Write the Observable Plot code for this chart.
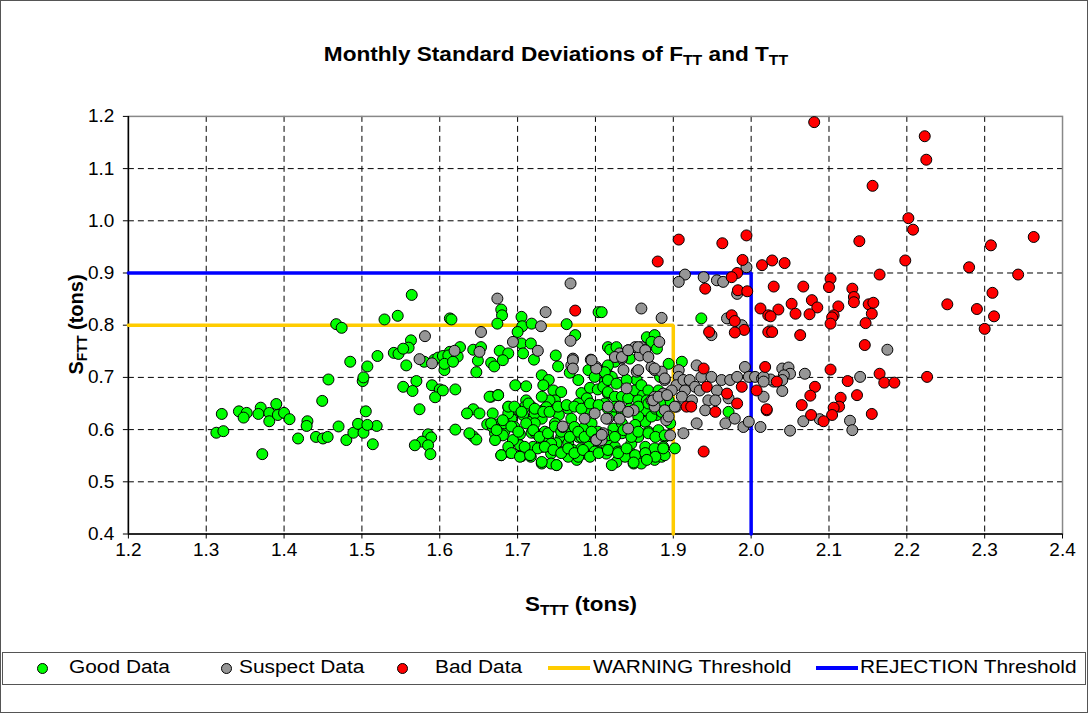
<!DOCTYPE html>
<html>
<head>
<meta charset="utf-8">
<script src="https://cdn.jsdelivr.net/npm/d3@7"></script>
<script src="https://cdn.jsdelivr.net/npm/@observablehq/plot@0.6"></script>
<style>
  html, body { margin: 0; padding: 0; background: #fff; }
  body { font-family: Arial, "Liberation Sans", Helvetica, sans-serif; }
  #wrap { position: relative; width: 1086px; height: 711px; border: 1px solid #555; overflow: hidden; }
  #plot { position: absolute; left: -1px; top: -1px; }
  .title { position: absolute; top: 42px; left: 155px; width: 800px; text-align: center; font-weight: bold; font-size: 20px; transform: scaleX(1.13); transform-origin: 400px 0; }
  .xlab { position: absolute; top: 592px; left: 405px; width: 350px; text-align: center; font-weight: bold; font-size: 20px; transform: scaleX(1.12); transform-origin: 175px 0; }
  .ylab { position: absolute; top: 312px; left: -100px; width: 350px; text-align: center; font-weight: bold; font-size: 20px; transform: rotate(-90deg); }
  sub { font-size: 14px; vertical-align: -4px; line-height: 0; }
  .legend { position: absolute; top: 651px; left: 1px; width: 1082px; height: 31px; border: 1px solid #555; font-size: 18px; }
  .li { position: absolute; top: 4px; white-space: nowrap; transform: scaleX(1.16); transform-origin: 0 0; }
  .dot { position: absolute; top: 10px; width: 9px; height: 9px; border-radius: 50%; border: 1px solid #000; }
  .ln { position: absolute; top: 13px; width: 42px; height: 4px; }
</style>
</head>
<body>
<div id="wrap">
  <div id="plot"></div>
  <div class="title">Monthly Standard Deviations of F<sub>TT</sub> and T<sub>TT</sub></div>
  <div class="xlab">S<sub>TTT</sub> (tons)</div>
  <div class="ylab">S<sub>FTT</sub> (tons)</div>
  <div class="legend" id="legend"></div>
</div>
<script>
// ---- Data (x = S_TTT tons, y = S_FTT tons) ----
const goodData = [
[1.313,0.594],[1.322,0.597],[1.320,0.630],[1.342,0.635],[1.352,0.632],[1.348,0.623],[1.370,0.642],[1.367,0.630],
[1.381,0.632],[1.381,0.616],[1.390,0.649],[1.392,0.628],[1.400,0.632],[1.407,0.620],[1.372,0.553],[1.418,0.583],
[1.430,0.616],[1.429,0.607],[1.441,0.586],[1.450,0.583],[1.456,0.586],[1.449,0.655],[1.457,0.696],[1.470,0.606],
[1.480,0.580],[1.489,0.594],[1.495,0.611],[1.502,0.594],[1.505,0.635],[1.514,0.572],[1.519,0.607],[1.507,0.609],
[1.501,0.693],[1.502,0.700],[1.507,0.721],[1.520,0.741],[1.485,0.730],[1.467,0.802],[1.474,0.795],[1.529,0.811],
[1.546,0.818],[1.541,0.747],[1.547,0.745],
[1.564,0.858],[1.563,0.771],[1.560,0.757],[1.553,0.755],[1.580,0.730],[1.593,0.734],[1.598,0.738],[1.604,0.741],
[1.613,0.749],[1.606,0.714],[1.613,0.733],[1.557,0.723],[1.570,0.693],[1.553,0.682],[1.565,0.674],[1.590,0.685],
[1.600,0.677],[1.594,0.662],[1.574,0.639],[1.585,0.591],[1.589,0.585],[1.577,0.577],[1.568,0.570],[1.585,0.570],
[1.588,0.553],[1.613,0.813],
[1.615,0.811],[1.679,0.830],[1.680,0.819],[1.674,0.803],[1.705,0.816],[1.706,0.798],[1.700,0.787],[1.718,0.803],
[1.763,0.802],[1.774,0.781],[1.804,0.825],[1.808,0.825],[1.705,0.765],[1.717,0.765],[1.707,0.746],[1.721,0.734],
[1.749,0.742],[1.752,0.721],[1.623,0.740],[1.611,0.742],[1.606,0.726],[1.617,0.730],[1.626,0.758],[1.643,0.753],
[1.653,0.758],[1.649,0.732],[1.666,0.728],[1.670,0.721],[1.677,0.751],[1.688,0.746],[1.681,0.733],[1.647,0.710],
[1.604,0.675],[1.620,0.677],[1.697,0.685],[1.711,0.683],[1.666,0.663],[1.675,0.666],[1.643,0.639],[1.635,0.631],
[1.651,0.631],[1.620,0.600],[1.643,0.587],[1.647,0.581],[1.638,0.593],[1.661,0.610],[1.668,0.631],[1.675,0.610],
[1.671,0.593],[1.683,0.596],[1.688,0.643],[1.692,0.621],[1.701,0.637],[1.703,0.591],[1.711,0.656],[1.717,0.645],
[1.714,0.615],[1.718,0.594],[1.679,0.551],[1.690,0.556],[1.705,0.549],[1.717,0.548],[1.703,0.570],[1.731,0.704],
[1.740,0.695],[1.746,0.675],[1.733,0.685],[1.733,0.637],[1.731,0.621],[1.723,0.594],[1.735,0.596],[1.731,0.535],
[1.750,0.532],[1.743,0.554],[1.731,0.567],[1.720,0.567],[1.756,0.672],[1.748,0.656],[1.765,0.640],[1.753,0.628],
[1.769,0.621],[1.748,0.612],[1.756,0.586],[1.750,0.574],[1.765,0.574],[1.778,0.586],[1.758,0.558],[1.771,0.561],
[1.776,0.542],[1.786,0.554],[1.767,0.709],[1.778,0.695],[1.782,0.670],[1.793,0.680],[1.789,0.660],[1.778,0.650],
[1.791,0.640],[1.795,0.612],[1.784,0.602],[1.803,0.596],[1.793,0.586],[1.797,0.568],[1.814,0.564],[1.803,0.558],
[1.782,0.564],[1.791,0.714],[1.799,0.701],[1.814,0.715],[1.812,0.691],[1.803,0.677],[1.816,0.669],[1.812,0.650],
[1.816,0.758],
[1.741,0.656],[1.739,0.586],[1.743,0.573],[1.769,0.596],[1.773,0.605],[1.782,0.586],[1.791,0.567],[1.799,0.558],
[1.765,0.548],[1.743,0.535],[1.778,0.548],[1.709,0.567],[1.694,0.580],[1.681,0.589],[1.671,0.580],[1.688,0.567],
[1.696,0.605],[1.707,0.628],[1.722,0.631],[1.731,0.663],[1.737,0.643],[1.722,0.612],[1.709,0.643],[1.698,0.640],
[1.688,0.631],[1.683,0.612],[1.668,0.605],
[1.936,0.813],[1.866,0.777],[1.876,0.781],[1.872,0.768],[1.879,0.755],[1.819,0.753],[1.827,0.758],[1.844,0.736],
[1.825,0.730],[1.816,0.723],[1.853,0.695],[1.821,0.701],[1.812,0.710],[1.894,0.726],[1.883,0.701],[1.911,0.730],
[1.810,0.682],[1.816,0.672],[1.825,0.663],[1.834,0.663],[1.842,0.660],[1.851,0.675],[1.861,0.666],[1.894,0.656],
[1.864,0.637],[1.823,0.602],[1.834,0.612],[1.864,0.615],[1.879,0.628],[1.896,0.612],[1.889,0.586],[1.902,0.564],
[1.887,0.567],[1.816,0.580],[1.825,0.567],[1.829,0.558],[1.814,0.554],[1.827,0.538],[1.846,0.554],[1.849,0.535],
[1.857,0.548],[1.868,0.551],[1.876,0.542],[1.885,0.548],[1.859,0.535],[1.846,0.573],[1.872,0.558],[1.838,0.548],
[1.971,0.634],
[1.816,0.695],[1.827,0.688],[1.840,0.695],[1.859,0.685],[1.868,0.675],[1.881,0.675],[1.855,0.656],[1.866,0.656],
[1.883,0.650],[1.855,0.625],[1.872,0.625],[1.851,0.609],[1.821,0.628],[1.834,0.593],[1.855,0.586],[1.868,0.596],
[1.881,0.599],[1.864,0.567],[1.876,0.564],[1.889,0.551],
[1.664,0.663],[1.675,0.666],[1.688,0.644],[1.696,0.644],[1.705,0.634],[1.714,0.650],[1.722,0.640],[1.733,0.634],
[1.741,0.634],[1.752,0.644],[1.763,0.647],[1.773,0.644],[1.782,0.640],[1.793,0.650],[1.804,0.647],[1.816,0.640],
[1.825,0.644],[1.834,0.634],[1.844,0.640],[1.855,0.644],[1.868,0.650],[1.877,0.640],[1.885,0.634],
[1.666,0.612],[1.673,0.599],[1.681,0.618],[1.692,0.606],[1.701,0.596],[1.711,0.612],[1.720,0.599],[1.728,0.586],
[1.739,0.593],[1.748,0.606],[1.756,0.596],[1.767,0.586],[1.778,0.596],[1.786,0.586],[1.795,0.596],[1.806,0.583],
[1.816,0.589],[1.825,0.586],[1.836,0.599],[1.846,0.586],[1.855,0.596],[1.868,0.593],[1.877,0.586],[1.889,0.589],
[1.679,0.551],[1.692,0.555],[1.703,0.548],[1.716,0.551],[1.726,0.564],[1.735,0.567],[1.746,0.561],[1.756,0.555],
[1.765,0.564],[1.773,0.555],[1.784,0.561],[1.793,0.548],[1.804,0.555],[1.816,0.561],[1.829,0.555],[1.840,0.564],
[1.851,0.551],[1.864,0.555],[1.877,0.548],[1.887,0.564],
[1.731,0.538],[1.750,0.532],[1.821,0.532],[1.849,0.537],[1.866,0.542]
];

const suspectData = [
[1.581,0.779],[1.574,0.735],[1.590,0.727],[1.674,0.851],[1.653,0.787],[1.730,0.798],[1.736,0.825],[1.768,0.770],
[1.694,0.768],[1.726,0.751],[1.619,0.751],[1.651,0.749],[1.758,0.605],[1.769,0.723],[1.771,0.736],[1.786,0.621],
[1.799,0.631],[1.808,0.580],[1.801,0.581],[1.794,0.734],[1.801,0.720],[1.816,0.621],[1.768,0.880],
[1.859,0.832],[1.885,0.814],[1.969,0.813],[1.988,0.800],[1.949,0.781],[1.882,0.768],[1.831,0.746],[1.834,0.736],
[1.842,0.752],[1.851,0.758],[1.859,0.758],[1.864,0.752],[1.857,0.742],[1.836,0.714],[1.853,0.711],[1.872,0.720],
[1.876,0.714],[1.885,0.711],[1.889,0.695],[1.907,0.714],[1.907,0.701],[1.904,0.685],[1.872,0.656],[1.876,0.663],
[1.887,0.669],[1.898,0.675],[1.840,0.679],[1.831,0.644],[1.816,0.644],[1.849,0.637],[1.876,0.644],[1.889,0.637],
[1.904,0.644],[1.913,0.695],[1.921,0.695],[1.928,0.682],[1.915,0.675],[1.911,0.663],[1.924,0.656],[1.934,0.675],
[1.814,0.621],[1.831,0.621],[1.842,0.602],[1.891,0.618],[1.896,0.589],[1.913,0.593],[1.810,0.593],[1.930,0.723],
[1.936,0.701],[1.949,0.701],[1.956,0.675],[1.962,0.695],[1.973,0.695],[1.982,0.701],[1.992,0.720],[1.997,0.701],
[1.971,0.660],[1.945,0.656],[1.954,0.656],[1.941,0.637],[1.967,0.612],[1.979,0.621],[1.990,0.605],[1.997,0.615],
[2.012,0.605],[2.016,0.663],[2.005,0.701],[2.014,0.698],[1.930,0.612],
[1.994,0.911],[1.915,0.897],[1.907,0.883],[1.939,0.892],[1.956,0.886],[1.964,0.883],[1.982,0.860],
[2.175,0.753],[2.040,0.717],[2.048,0.719],[2.050,0.707],[2.042,0.704],[2.040,0.695],[2.029,0.692],[2.025,0.696],
[2.016,0.701],[2.016,0.692],[2.040,0.674],[2.069,0.707],[2.140,0.701],[2.067,0.616],[2.088,0.620],[2.127,0.617],
[2.130,0.599],[2.050,0.598],
[1.758,0.606],[1.801,0.580],[1.808,0.590],[1.831,0.644],[1.842,0.634],[1.874,0.656],[1.881,0.663],[1.892,0.666],
[1.902,0.644],[1.894,0.625],[1.801,0.717],[1.795,0.733],[1.771,0.733],[1.771,0.717],[1.825,0.739],[1.834,0.739],
[1.842,0.752],[1.855,0.758],[1.864,0.752],[1.868,0.739],[1.855,0.714],[1.876,0.717],[1.889,0.698]
];

const badData = [
[1.774,0.828],[1.917,0.644],[1.923,0.644],[1.939,0.717],[1.943,0.682],[1.988,0.682],[1.969,0.669],[1.982,0.650],
[1.954,0.634],[1.939,0.558],[2.018,0.720],[2.007,0.675],[2.020,0.637],
[1.975,0.819],[1.979,0.808],[1.991,0.791],[1.946,0.787],[1.979,0.786],[2.012,0.832],[2.022,0.819],[2.022,0.787],
[2.081,1.189],[2.156,1.067],[1.907,0.964],[1.963,0.957],[1.994,0.972],[2.139,0.961],[1.880,0.922],[1.989,0.925],
[2.014,0.915],[2.027,0.924],[2.043,0.919],[1.982,0.900],[1.975,0.892],[2.165,0.897],[2.102,0.889],[1.941,0.870],
[1.983,0.867],[1.995,0.865],
[2.029,0.874],[2.067,0.874],[2.100,0.873],[2.130,0.870],[2.132,0.854],[2.132,0.844],[2.052,0.841],[2.078,0.848],
[2.085,0.834],[2.035,0.830],[2.025,0.817],[2.057,0.822],[2.075,0.821],[2.112,0.836],[2.106,0.819],[2.104,0.815],
[2.102,0.803],[2.151,0.840],[2.157,0.843],[2.155,0.822],[2.147,0.804],[2.252,0.840],[2.027,0.787],[2.063,0.781],
[2.146,0.762],[2.033,0.692],[2.020,0.639],[2.102,0.715],[2.124,0.693],[2.165,0.707],[2.171,0.690],[2.184,0.690],
[2.226,0.701],[2.082,0.682],[2.076,0.665],[2.136,0.666],[2.115,0.661],[2.113,0.644],[2.106,0.642],[2.104,0.628],
[2.093,0.616],[2.065,0.647],[2.077,0.628],[2.155,0.630],
[2.223,1.162],[2.225,1.117],[2.202,1.005],[2.208,0.983],[2.363,0.969],[2.308,0.953],[2.198,0.924],[2.280,0.911],
[2.343,0.897],[2.310,0.862],[2.290,0.831],[2.312,0.817],[2.300,0.793]
];

// Threshold polylines
const warningX = [1.2, 1.9, 1.9];
const warningY = [0.8, 0.8, 0.4];
const rejectionX = [1.2, 2.0, 2.0];
const rejectionY = [0.9, 0.9, 0.4];

// Axis ticks
const xTicks = [1.2,1.3,1.4,1.5,1.6,1.7,1.8,1.9,2.0,2.1,2.2,2.3,2.4];
const yTicks = [0.4,0.5,0.6,0.7,0.8,0.9,1.0,1.1,1.2];

// Series / legend
const seriesNames = ["Good Data", "Suspect Data", "Bad Data"];
const seriesColors = ["#00FF00", "#969696", "#FF0000"];
const lineNames = ["WARNING Threshold", "REJECTION Threshold"];
const lineColors = ["#FFCC00", "#0000FF"];

const warnLine = warningX.map((x, i) => ({x, y: warningY[i]}));
const rejLine = rejectionX.map((x, i) => ({x, y: rejectionY[i]}));
const toObjs = arr => arr.map(([x, y]) => ({x, y}));

const chart = Plot.plot({
  width: 1088,
  height: 560,
  marginLeft: 128,
  marginRight: 25,
  marginTop: 116,
  marginBottom: 26,
  style: {fontFamily: "Arial, 'Liberation Sans', sans-serif", fontSize: "19px", color: "#000", background: "transparent"},
  x: {domain: [1.2, 2.4]},
  y: {domain: [0.4, 1.2]},
  marks: [
    Plot.ruleX(xTicks.slice(1, -1), {stroke: "#000", strokeDasharray: "6,4", strokeWidth: 1}),
    Plot.ruleY(yTicks.slice(1, -1), {stroke: "#000", strokeDasharray: "6,4", strokeWidth: 1}),
    Plot.frame({stroke: "#888", strokeWidth: 1.5}),
    Plot.ruleX([1.2], {stroke: "#000", strokeWidth: 1.5}),
    Plot.ruleY([0.4], {stroke: "#000", strokeWidth: 1.5}),
    Plot.axisX({ticks: xTicks, tickFormat: d => d.toFixed(1), tickSize: 5, tickPadding: 4, label: null, fontSize: 19}),
    Plot.axisY({ticks: yTicks, tickFormat: d => d.toFixed(1), tickSize: 5, tickPadding: 9, label: null, fontSize: 19}),
    Plot.line(warnLine, {x: "x", y: "y", stroke: lineColors[0], strokeWidth: 3.5, strokeLinejoin: "miter"}),
    Plot.line(rejLine, {x: "x", y: "y", stroke: lineColors[1], strokeWidth: 3.5, strokeLinejoin: "miter"}),
    Plot.dot(toObjs(goodData), {x: "x", y: "y", r: 5.5, fill: seriesColors[0], stroke: "#000", strokeWidth: 1}),
    Plot.dot(toObjs(suspectData), {x: "x", y: "y", r: 5.5, fill: seriesColors[1], stroke: "#000", strokeWidth: 1}),
    Plot.dot(toObjs(badData), {x: "x", y: "y", r: 5.5, fill: seriesColors[2], stroke: "#000", strokeWidth: 1})
  ]
});
document.getElementById("plot").appendChild(chart);

// Legend
const legend = document.getElementById("legend");
const dotPos = [[34, 66], [218, 236], [394, 432]];
seriesNames.forEach((name, i) => {
  const d = document.createElement("div");
  d.className = "dot";
  d.style.left = dotPos[i][0] + "px";
  d.style.background = seriesColors[i];
  legend.appendChild(d);
  const t = document.createElement("div");
  t.className = "li";
  t.style.left = dotPos[i][1] + "px";
  t.textContent = name;
  legend.appendChild(t);
});
const linePos = [[545, 590], [813, 857]];
lineNames.forEach((name, i) => {
  const l = document.createElement("div");
  l.className = "ln";
  l.style.left = linePos[i][0] + "px";
  l.style.background = lineColors[i];
  legend.appendChild(l);
  const t = document.createElement("div");
  t.className = "li";
  t.style.left = linePos[i][1] + "px";
  t.textContent = name;
  legend.appendChild(t);
});
</script>
</body>
</html>
